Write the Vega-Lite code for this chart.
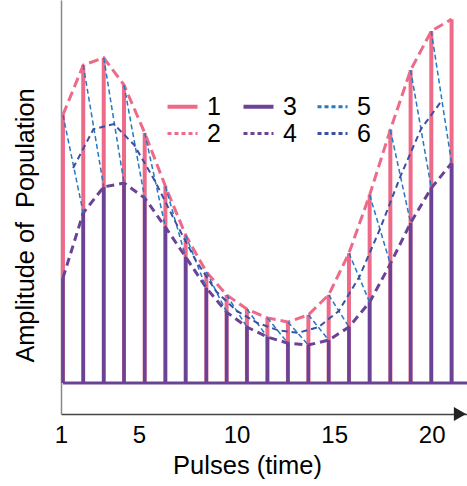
{
  "$schema": "https://vega.github.io/schema/vega-lite/v6.json",
  "width": 406,
  "height": 414,
  "autosize": {"type": "none"},
  "padding": {"left": 61, "top": 0, "right": 0, "bottom": 72},
  "background": "white",
  "config": {"view": {"stroke": null}, "font": "Liberation Sans", "axis": {"grid": false}},
  "datasets": {
    "pts": [
      {"s": "1", "t": 1.10, "a": 70.0}, {"s": "1", "t": 2.14, "a": 83.0}, {"s": "1", "t": 3.19, "a": 84.9}, {"s": "1", "t": 4.23, "a": 77.8},
      {"s": "1", "t": 5.29, "a": 65.3}, {"s": "1", "t": 6.35, "a": 51.4}, {"s": "1", "t": 7.39, "a": 38.6}, {"s": "1", "t": 8.45, "a": 29.0},
      {"s": "1", "t": 9.49, "a": 23.0}, {"s": "1", "t": 10.53, "a": 19.3}, {"s": "1", "t": 11.58, "a": 17.0}, {"s": "1", "t": 12.63, "a": 15.9},
      {"s": "1", "t": 13.68, "a": 17.8}, {"s": "1", "t": 14.72, "a": 23.0}, {"s": "1", "t": 15.76, "a": 33.9}, {"s": "1", "t": 16.82, "a": 49.1},
      {"s": "1", "t": 17.88, "a": 66.1}, {"s": "1", "t": 18.92, "a": 81.7}, {"s": "1", "t": 19.98, "a": 91.9}, {"s": "1", "t": 21.02, "a": 95.0},
      {"s": "3", "t": 1.10, "a": 27.4}, {"s": "3", "t": 2.14, "a": 44.4}, {"s": "3", "t": 3.19, "a": 51.2}, {"s": "3", "t": 4.23, "a": 52.2},
      {"s": "3", "t": 5.29, "a": 48.3}, {"s": "3", "t": 6.35, "a": 40.7}, {"s": "3", "t": 7.39, "a": 32.9}, {"s": "3", "t": 8.45, "a": 24.8},
      {"s": "3", "t": 9.49, "a": 18.5}, {"s": "3", "t": 10.53, "a": 14.6}, {"s": "3", "t": 11.58, "a": 12.0}, {"s": "3", "t": 12.63, "a": 10.4},
      {"s": "3", "t": 13.68, "a": 9.9}, {"s": "3", "t": 14.72, "a": 11.2}, {"s": "3", "t": 15.76, "a": 14.6}, {"s": "3", "t": 16.82, "a": 21.1},
      {"s": "3", "t": 17.88, "a": 31.1}, {"s": "3", "t": 18.92, "a": 41.8}, {"s": "3", "t": 19.98, "a": 50.9}, {"s": "3", "t": 21.02, "a": 57.4}
    ],
    "base": [{"t": 1.10, "a": 0}, {"t": 21.81, "a": 0}],
    "saw": [
      {"seg": 1, "t": 1.10, "a": 70.0}, {"seg": 1, "t": 2.14, "a": 44.4},
      {"seg": 2, "t": 2.14, "a": 83.0}, {"seg": 2, "t": 3.19, "a": 51.2},
      {"seg": 3, "t": 3.19, "a": 84.9}, {"seg": 3, "t": 4.23, "a": 52.2},
      {"seg": 4, "t": 4.23, "a": 77.8}, {"seg": 4, "t": 5.29, "a": 48.3},
      {"seg": 5, "t": 5.29, "a": 65.3}, {"seg": 5, "t": 6.35, "a": 40.7},
      {"seg": 6, "t": 6.35, "a": 51.4}, {"seg": 6, "t": 7.39, "a": 32.9},
      {"seg": 7, "t": 7.39, "a": 38.6}, {"seg": 7, "t": 8.45, "a": 24.8},
      {"seg": 8, "t": 8.45, "a": 29.0}, {"seg": 8, "t": 9.49, "a": 18.5},
      {"seg": 9, "t": 9.49, "a": 23.0}, {"seg": 9, "t": 10.53, "a": 14.6},
      {"seg": 10, "t": 10.53, "a": 19.3}, {"seg": 10, "t": 11.58, "a": 12.0},
      {"seg": 11, "t": 11.58, "a": 17.0}, {"seg": 11, "t": 12.63, "a": 10.4},
      {"seg": 12, "t": 12.63, "a": 15.9}, {"seg": 12, "t": 13.68, "a": 9.9},
      {"seg": 13, "t": 13.68, "a": 17.8}, {"seg": 13, "t": 14.72, "a": 11.2},
      {"seg": 14, "t": 14.72, "a": 23.0}, {"seg": 14, "t": 15.76, "a": 14.6},
      {"seg": 15, "t": 15.76, "a": 33.9}, {"seg": 15, "t": 16.82, "a": 21.1},
      {"seg": 16, "t": 16.82, "a": 49.1}, {"seg": 16, "t": 17.88, "a": 31.1},
      {"seg": 17, "t": 17.88, "a": 66.1}, {"seg": 17, "t": 18.92, "a": 41.8},
      {"seg": 18, "t": 18.92, "a": 81.7}, {"seg": 18, "t": 19.98, "a": 50.9},
      {"seg": 19, "t": 19.98, "a": 91.9}, {"seg": 19, "t": 21.02, "a": 57.4}
    ],
    "mid": [
      {"t": 1.62, "a": 56.1}, {"t": 2.665, "a": 66.3}, {"t": 3.71, "a": 67.6}, {"t": 4.76, "a": 62.1},
      {"t": 5.82, "a": 52.7}, {"t": 6.87, "a": 42.0}, {"t": 7.92, "a": 31.9}, {"t": 8.97, "a": 23.8},
      {"t": 10.01, "a": 18.8}, {"t": 11.055, "a": 15.7}, {"t": 12.105, "a": 13.8}, {"t": 13.155, "a": 13.1},
      {"t": 14.2, "a": 14.6}, {"t": 15.24, "a": 18.8}, {"t": 16.29, "a": 27.7}, {"t": 17.35, "a": 40.2},
      {"t": 18.4, "a": 54.0}, {"t": 19.45, "a": 66.3}, {"t": 20.5, "a": 73.6}
    ],
    "arrow": [{"t": 21.45, "a": -8.1}]
  },
  "encoding": {
    "x": {
      "field": "t", "type": "quantitative",
      "scale": {"domain": [1, 21.81], "nice": false, "zero": false},
      "axis": {
        "values": [1, 5, 10, 15, 20], "title": "Pulses (time)", "ticks": false, "grid": false,
        "domainColor": "#444444", "domainWidth": 1.5, "labelFontSize": 24, "labelColor": "black",
        "labelPadding": 9, "labelFont": "Liberation Sans", "labelFlush": false, "labelOverlap": false,
        "titleFont": "Liberation Sans", "titleFontSize": 25.5, "titleFontWeight": "normal", "titleColor": "black",
        "titleX": 186, "titleY": 59, "titleBaseline": "alphabetic", "titleAlign": "center"
      }
    },
    "y": {
      "field": "a", "type": "quantitative",
      "scale": {"domain": [-8.1, 100], "nice": false, "zero": false},
      "axis": {
        "title": "Amplitude of\u00a0 Population", "labels": false, "ticks": false, "grid": false,
        "domainColor": "#888888", "domainWidth": 1.5,
        "titleFont": "Liberation Sans", "titleFontSize": 25.3, "titleFontWeight": "normal", "titleColor": "black",
        "titleAngle": -90, "titleX": -28, "titleY": 225, "titleAlign": "center", "titleBaseline": "alphabetic"
      }
    }
  },
  "layer": [
    {
      "data": {"name": "pts"},
      "transform": [{"filter": "datum.s === '1'"}],
      "mark": {"type": "rule", "strokeWidth": 4},
      "encoding": {
        "y2": {"datum": 0},
        "color": {
          "datum": "1", "type": "nominal",
          "scale": {"domain": ["1", "3", "5", "2", "4", "6"], "range": ["#EE6A89", "#6A4396", "#2279C4", "#EE6A89", "#6A4396", "#3B4FA3"]},
          "legend": {
            "orient": "none", "legendX": 109, "legendY": 94, "columns": 3, "direction": "horizontal",
            "symbolType": "stroke", "symbolSize": 900, "symbolStrokeWidth": 4,
            "labelFontSize": 25, "labelFont": "Liberation Sans", "labelColor": "black", "labelOffset": 12,
            "columnPadding": 14, "rowPadding": 1, "title": null, "padding": 0,
            "encode": {"symbols": {"update": {
              "strokeDash": {"signal": "datum.value === '1' || datum.value === '3' ? [1, 0] : [4, 3]"},
              "strokeWidth": {"signal": "datum.value === '1' || datum.value === '3' ? 4 : 3"}
            }}}
          }
        }
      }
    },
    {
      "data": {"name": "pts"},
      "transform": [{"filter": "datum.s === '1'"}],
      "mark": {"type": "line", "strokeWidth": 3, "strokeDash": [10, 5]},
      "encoding": {"color": {"datum": "2", "type": "nominal"}}
    },
    {
      "data": {"name": "pts"},
      "transform": [{"filter": "datum.s === '3'"}],
      "mark": {"type": "rule", "strokeWidth": 3.5},
      "encoding": {"y2": {"datum": 0}, "color": {"datum": "3", "type": "nominal"}}
    },
    {
      "data": {"name": "base"},
      "mark": {"type": "line", "strokeWidth": 3},
      "encoding": {"color": {"datum": "3", "type": "nominal"}}
    },
    {
      "data": {"name": "pts"},
      "transform": [{"filter": "datum.s === '3'"}],
      "mark": {"type": "line", "strokeWidth": 3, "strokeDash": [8, 5]},
      "encoding": {"color": {"datum": "4", "type": "nominal"}}
    },
    {
      "data": {"name": "saw"},
      "mark": {"type": "line", "strokeWidth": 1.5, "strokeDash": [5, 3]},
      "encoding": {"detail": {"field": "seg", "type": "nominal"}, "color": {"datum": "5", "type": "nominal"}}
    },
    {
      "data": {"name": "mid"},
      "mark": {"type": "line", "strokeWidth": 2, "strokeDash": [6, 4]},
      "encoding": {"color": {"datum": "6", "type": "nominal"}}
    },
    {
      "data": {"name": "arrow"},
      "mark": {"type": "point", "shape": "triangle-right", "filled": true, "size": 200, "color": "#222222", "opacity": 1},
      "encoding": {}
    }
  ]
}
